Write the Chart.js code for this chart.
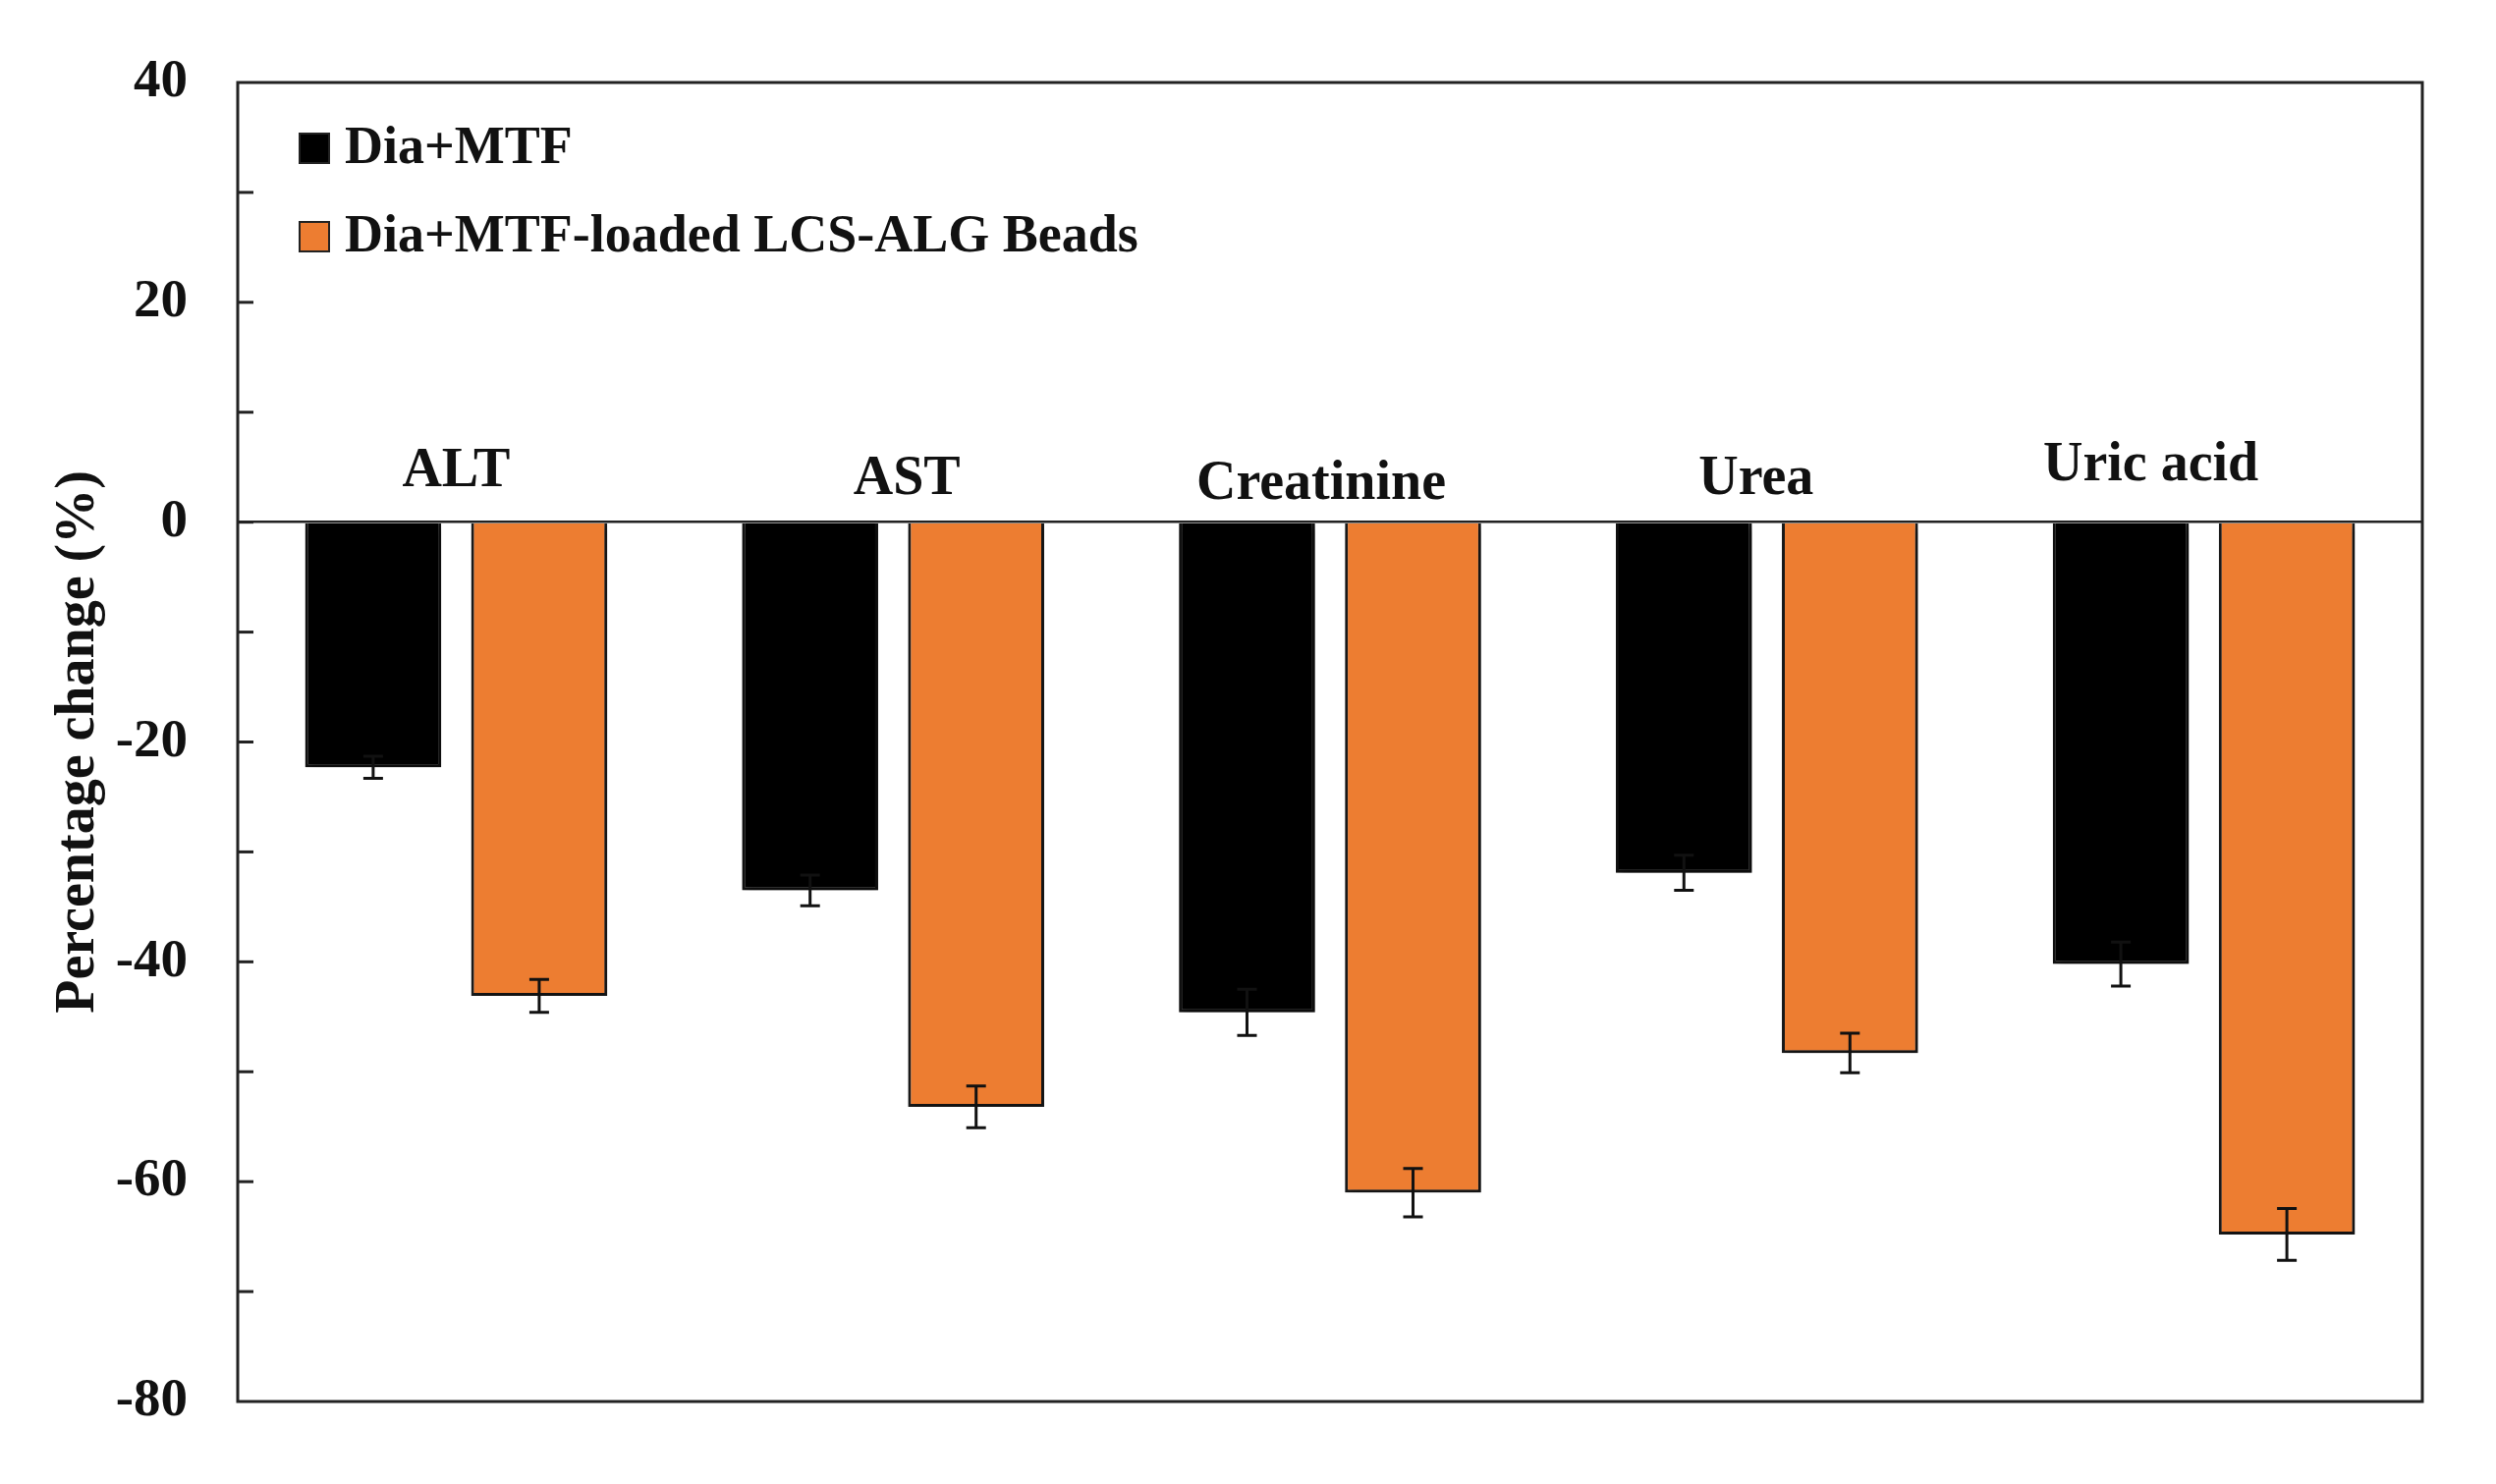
<!DOCTYPE html>
<html>
<head>
<meta charset="utf-8">
<script src="https://cdn.jsdelivr.net/npm/chart.js@4.4.1/dist/chart.umd.min.js"></script>
<style>
  body { margin: 0; background: #fff; }
</style>
</head>
<body>
<canvas id="bar-chart" width="2541" height="1511"></canvas>
<script>
// ---------------- data ----------------
var categories = ['ALT', 'AST', 'Creatinine', 'Urea', 'Uric acid'];
var seriesNames = ['Dia+MTF', 'Dia+MTF-loaded LCS-ALG Beads'];
var mtfValues = [-22.3, -33.5, -44.6, -31.9, -40.2];
var mtfErrors = [1.0, 1.4, 2.1, 1.6, 2.0];
var beadsValues = [-43.1, -53.2, -61.0, -48.3, -64.8];
var beadsErrors = [1.5, 1.9, 2.2, 1.8, 2.35];
var yTickLabels = [40, 20, 0, -20, -40, -60, -80];

var FONT = "'Liberation Serif', 'Times New Roman', serif";

// ---------------- plugins ----------------
var framePlugin = {
  id: 'frame',
  afterDraw: function (chart) {
    var ctx = chart.ctx, a = chart.chartArea, y = chart.scales.y;
    ctx.save();
    ctx.strokeStyle = '#222';
    // inward tick marks
    ctx.lineWidth = 3;
    y.ticks.forEach(function (t) {
      if (t.value === y.min || t.value === y.max) return;
      var py = y.getPixelForValue(t.value);
      ctx.beginPath();
      ctx.moveTo(a.left, py);
      ctx.lineTo(a.left + 16, py);
      ctx.stroke();
    });
    // box
    ctx.lineWidth = 3;
    ctx.strokeRect(a.left, a.top, a.right - a.left, a.bottom - a.top);
    ctx.restore();
  }
};

// soft drop shadow under the bars
var shadowPlugin = {
  id: 'barShadow',
  beforeDatasetsDraw: function (chart) {
    var ctx = chart.ctx;
    ctx.save();
    ctx.shadowColor = 'rgba(0,0,0,0.35)';
    ctx.shadowBlur = 8;
    ctx.shadowOffsetX = 3;
    ctx.shadowOffsetY = 4;
  },
  afterDatasetsDraw: function (chart) {
    chart.ctx.restore();
  }
};

var errorBarPlugin = {
  id: 'errorBars',
  afterDatasetsDraw: function (chart) {
    var ctx = chart.ctx, y = chart.scales.y;
    ctx.save();
    ctx.shadowColor = 'rgba(0,0,0,0)';
    ctx.strokeStyle = '#111';
    ctx.lineWidth = 3;
    chart.data.datasets.forEach(function (ds, i) {
      var meta = chart.getDatasetMeta(i);
      meta.data.forEach(function (bar, j) {
        var v = ds.data[j], e = ds.errors[j];
        var y1 = y.getPixelForValue(v - e), y2 = y.getPixelForValue(v + e);
        var cap = 10;
        ctx.beginPath();
        ctx.moveTo(bar.x, y1); ctx.lineTo(bar.x, y2);
        ctx.moveTo(bar.x - cap, y1); ctx.lineTo(bar.x + cap, y1);
        ctx.moveTo(bar.x - cap, y2); ctx.lineTo(bar.x + cap, y2);
        ctx.stroke();
      });
    });
    ctx.restore();
  }
};

// category names sit just above the zero line
var labelNudge = [[0, 37], [14, 29], [-9, 24], [-11, 29], [-54, 43]];
var categoryLabelPlugin = {
  id: 'categoryLabels',
  afterDraw: function (chart) {
    var ctx = chart.ctx, x = chart.scales.x, y = chart.scales.y;
    var y0 = y.getPixelForValue(0);
    ctx.save();
    ctx.fillStyle = '#111';
    ctx.font = 'bold 56px ' + FONT;
    ctx.textAlign = 'center';
    ctx.textBaseline = 'alphabetic';
    chart.data.labels.forEach(function (lab, j) {
      var n = labelNudge[j] || [0, 32];
      ctx.fillText(lab, x.getPixelForValue(j) + n[0], y0 - n[1]);
    });
    ctx.restore();
  }
};

var insideLegendPlugin = {
  id: 'insideLegend',
  afterDraw: function (chart) {
    var ctx = chart.ctx, a = chart.chartArea;
    ctx.save();
    ctx.font = 'bold 54px ' + FONT;
    ctx.textAlign = 'left';
    ctx.textBaseline = 'alphabetic';
    chart.data.datasets.forEach(function (ds, i) {
      var base = a.top + 82 + i * 90;
      var sx = a.left + 63, size = 30;
      ctx.fillStyle = ds.backgroundColor;
      ctx.fillRect(sx, base - size, size, size);
      ctx.strokeStyle = '#222';
      ctx.lineWidth = 2;
      ctx.strokeRect(sx, base - size, size, size);
      ctx.fillStyle = '#111';
      ctx.fillText(ds.label, sx + 46, base);
    });
    ctx.restore();
  }
};

// ---------------- chart ----------------
var options = {
  type: 'bar',
  data: {
    labels: categories,
    datasets: [{
      label: seriesNames[0],
      data: mtfValues,
      errors: mtfErrors,
      backgroundColor: '#000000',
      borderColor: '#111111',
      borderWidth: 3
    }, {
      label: seriesNames[1],
      data: beadsValues,
      errors: beadsErrors,
      backgroundColor: '#ED7D31',
      borderColor: '#1a1a1a',
      borderWidth: 3
    }]
  },
  options: {
    responsive: false,
    animation: false,
    devicePixelRatio: 1,
    layout: {
      padding: { left: 0, top: 80, right: 75, bottom: 68 }
    },
    datasets: {
      bar: {
        categoryPercentage: 0.76,
        barPercentage: 0.82
      }
    },
    plugins: {
      legend: { display: false },
      tooltip: { enabled: false }
    },
    scales: {
      x: {
        display: false
      },
      y: {
        min: -80,
        max: 40,
        afterFit: function (scale) { scale.width = 242; },
        ticks: {
          stepSize: 10,
          padding: 51,
          color: '#111',
          font: { family: FONT, size: 55, weight: 'bold' },
          callback: function (v) {
            return yTickLabels.indexOf(v) >= 0 ? String(v) : '';
          }
        },
        grid: {
          drawTicks: false,
          lineWidth: 2.5,
          color: function (c) {
            return c.tick && c.tick.value === 0 ? '#222' : 'rgba(0,0,0,0)';
          }
        },
        border: { display: false },
        title: {
          display: true,
          text: 'Percentage change (%)',
          color: '#111',
          padding: { top: 47, bottom: 0 },
          font: { family: FONT, size: 56, weight: 'bold' }
        }
      }
    }
  },
  plugins: [shadowPlugin, errorBarPlugin, categoryLabelPlugin, insideLegendPlugin, framePlugin]
};

var chart = new Chart(document.getElementById('bar-chart'), options);
</script>
</body>
</html>
